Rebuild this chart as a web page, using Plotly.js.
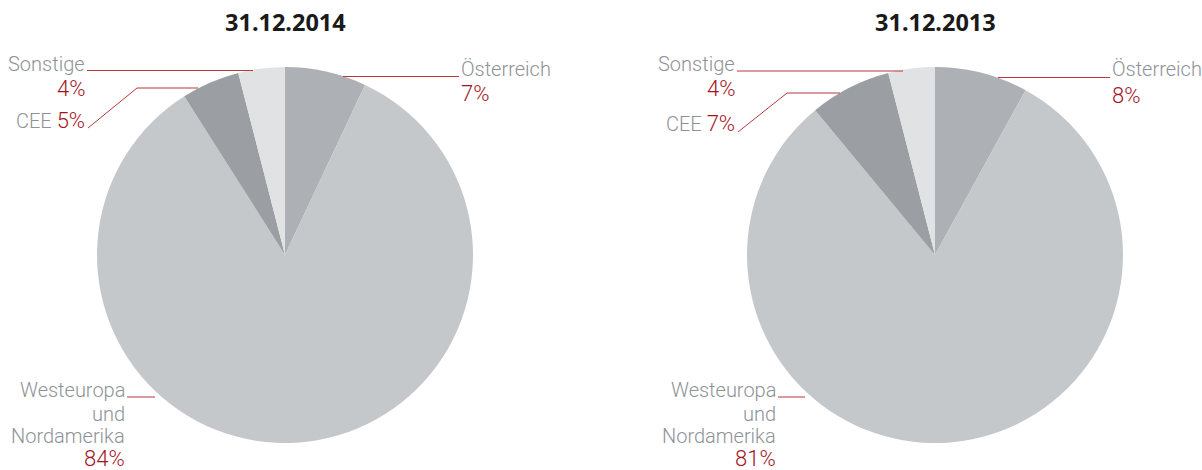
<!DOCTYPE html>
<html><head><meta charset="utf-8">
<script src="https://cdn.plot.ly/plotly-3.0.1.min.js"></script>
<style>html,body{margin:0;padding:0;background:#fff;}#chart{width:1202px;height:470px;}</style>
</head><body><div id="chart"></div>
<script>
const categories = ["Österreich", "Westeuropa und Nordamerika", "CEE", "Sonstige"];
const values2014 = [7, 84, 5, 4];
const values2013 = [8, 81, 7, 4];
const titles = ["31.12.2014", "31.12.2013"];
const sliceColors = ["#adb0b4", "#c5c8cb", "#9b9ea3", "#e1e2e4"];

const W = 1202, H = 470;
const px = x => x / W, py = y => 1 - y / H;
const GRAY = "#8e9297", RED = "#a3151e", LINE = "#b8383d";
const FONT = "Roboto, 'Open Sans', sans-serif";

function pie(vals, x0, x1) {
  return {
    type: "pie", values: vals, labels: categories, sort: false, direction: "clockwise", rotation: 0,
    marker: {colors: sliceColors, line: {width: 0}}, textinfo: "none", hoverinfo: "label+percent",
    domain: {x: [px(x0), px(x1)], y: [py(443), py(67)]}, showlegend: false
  };
}

function ann(text, x, y, anchor, color, size, weight) {
  return {text: text, x: px(x), y: py(y), xref: "paper", yref: "paper", xanchor: anchor, yanchor: "middle",
    showarrow: false, font: {family: FONT, size: size || 20, color: color, weight: weight || 300}};
}
function line(x0, y0, x1, y1) {
  return {type: "line", xref: "paper", yref: "paper", x0: px(x0), y0: py(y0), x1: px(x1), y1: py(y1),
    line: {color: LINE, width: 1}};
}
function pct(v) { return v + "%"; }
const PS = 22;

function labels(vals, o) {
  return [
    ann(categories[3], o.sonX, 64, "right", GRAY),
    ann(pct(vals[3]), o.sonX, 88, "right", RED, PS),
    ann("CEE <span style='color:" + RED + ";font-size:" + PS + "px'>" + pct(vals[2]) + "</span>", o.sonX, o.ceeY, "right", GRAY),
    ann(categories[0], o.oeX, 68.5, "left", GRAY),
    ann(pct(vals[0]), o.oeX, o.oePY, "left", RED, PS),
    ann("Westeuropa", o.weX, 390, "right", GRAY),
    ann("und", o.weX, 414, "right", GRAY),
    ann("Nordamerika", o.weX, 436, "right", GRAY),
    ann(pct(vals[1]), o.weX, 458, "right", RED, PS)
  ];
}

const L = {sonX: 87, ceeY: 121, oeX: 459, oePY: 93, weX: 127};
const R = {sonX: 737, ceeY: 124, oeX: 1110, oePY: 95, weX: 778};

const annotations = [
  ann(titles[0], 285, 22, "center", "#1a1a1a", 23.5, 700),
  ann(titles[1], 935, 22, "center", "#1a1a1a", 23.5, 700)
].concat(labels(values2014, L), labels(values2013, R));
annotations[0].font.family = "'Noto Sans', sans-serif";
annotations[1].font.family = "'Noto Sans', sans-serif";

const shapes = [
  line(87, 70.5, 253, 70.5), line(88, 128, 137, 88), line(137, 88, 198, 88),
  line(343, 76.5, 459, 76.5), line(127, 397, 155, 397),
  line(737, 71, 903, 71), line(738, 132, 787, 93), line(787, 93, 840, 93),
  line(998, 77.5, 1110, 77.5), line(778, 397, 805, 397)
];

Plotly.newPlot("chart", [pie(values2014, 97, 473), pie(values2013, 747, 1123)], {
  width: W, height: H, margin: {l: 0, r: 0, t: 0, b: 0}, paper_bgcolor: "#fff",
  annotations: annotations, shapes: shapes
}, {staticPlot: true});
</script></body></html>
